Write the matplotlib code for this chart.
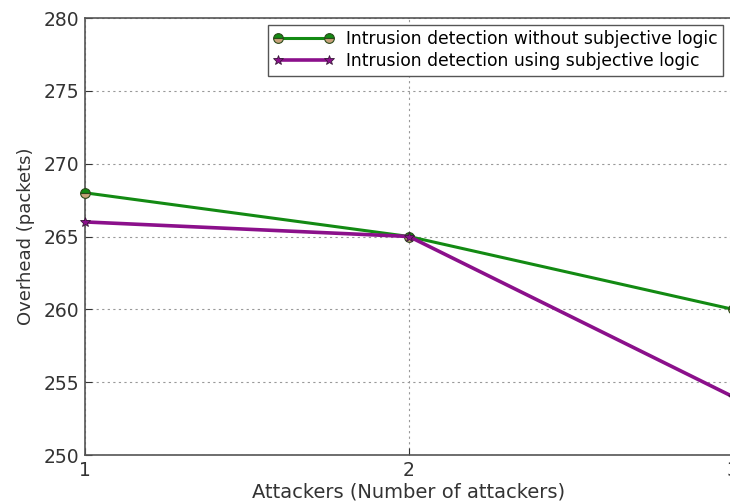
import matplotlib
matplotlib.use("Agg")
import matplotlib.pyplot as plt

plt.rcParams['font.family'] = ['DejaVu Sans']

attackers = [1, 2, 3]
without_sl = [268, 265, 260]
using_sl = [266, 265, 254]
yticks = [250, 255, 260, 265, 270, 275, 280]
xticks = [1, 2, 3]

fig = plt.figure(figsize=(7.3, 5.04), dpi=100)
ax = fig.add_axes([85/730, 1-455/504, (733-85)/730, (455-18)/504])

ax.plot(attackers, without_sl, color='#138a13', lw=2.2, marker='o', ms=7,
        fillstyle='top', markerfacecolor='#138a13', markerfacecoloralt='#c8a27a',
        markeredgecolor='#2a4a1a', markeredgewidth=0.8,
        label='Intrusion detection without subjective logic', clip_on=False, zorder=3)
ax.plot(attackers, using_sl, color='#8b108b', lw=2.6, marker='*', ms=7,
        markerfacecolor='#8b108b', markeredgecolor='#3a1a3a', markeredgewidth=0.6,
        label='Intrusion detection using subjective logic', clip_on=False, zorder=3)

ax.set_xlim(1, 3)
ax.set_ylim(250, 280)
ax.set_xticks(xticks)
ax.set_yticks(yticks)
ax.tick_params(labelsize=13.5, direction='in', length=5, colors='#333333', pad=4)
ax.grid(True, color='#999999', linestyle=(0, (2, 3)), linewidth=0.8)
for s in ax.spines.values():
    s.set_color('#555555')
    s.set_linewidth(1.2)
ax.set_xlabel('Attackers (Number of attackers)', fontsize=14, color='#333333', labelpad=2)
ax.set_ylabel('Overhead (packets)', fontsize=13, color='#333333', labelpad=6)
ax.legend(loc='upper right', bbox_to_anchor=(0.9846, 0.984), borderaxespad=0,
          fontsize=12.3, frameon=True,
          fancybox=False, edgecolor='#555555', framealpha=1, borderpad=0.3,
          handlelength=3.6, handletextpad=0.7, labelspacing=0.25, numpoints=2)

fig.savefig('out.png', dpi=100)
